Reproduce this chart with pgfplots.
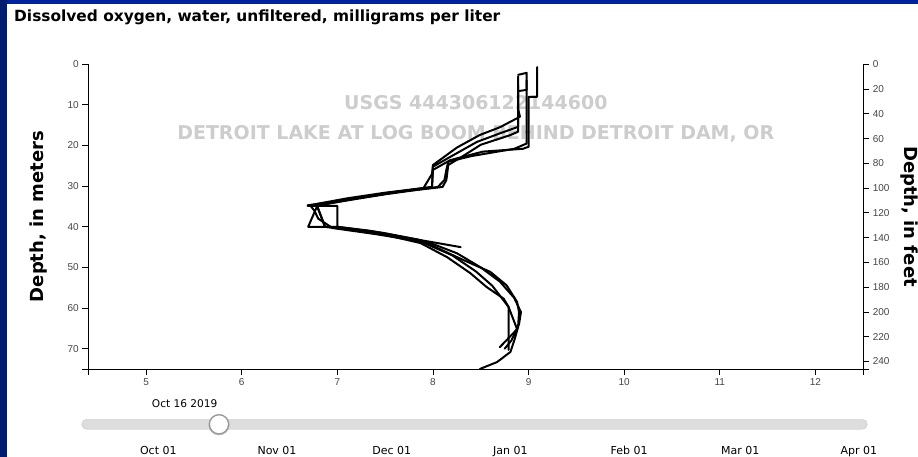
\documentclass[border=0pt]{standalone}
\usepackage{fontspec}
\usepackage{pgfplots}
\pgfplotsset{compat=1.18}
\setmainfont{DejaVu Sans}
\newfontfamily\tickfont{Liberation Sans}
\definecolor{tickgray}{RGB}{70,70,70}
\definecolor{wm}{RGB}{205,205,205}
\definecolor{topblue}{RGB}{0,34,155}
\definecolor{leftblue}{RGB}{0,28,110}
\definecolor{bar}{RGB}{221,221,221}
\definecolor{barb}{RGB}{200,200,200}
\pgfplotsset{prof/.style={black, line width=2pt, line join=round, line cap=round, mark=none}}
\begin{document}
\begin{tikzpicture}[x=1pt,y=1pt]
\useasboundingbox (0,0) rectangle (918,457);
\fill[white] (0,0) rectangle (918,457);
\fill[topblue] (0,453) rectangle (918,457);
\fill[leftblue] (0,0) rectangle (7,457);
% title
\node[anchor=base west,inner sep=0pt] at (14,435) {\fontsize{15.4}{17}\selectfont\bfseries Dissolved oxygen, water, unfiltered, milligrams per liter};
% watermark
\node[inner sep=0pt,text=wm] at (475.8,354) {\fontsize{19}{21}\selectfont\bfseries USGS 444306122144600};
\node[inner sep=0pt,text=wm] at (475.8,323) {\fontsize{19}{21}\selectfont\bfseries DETROIT LAKE AT LOG BOOM BEHIND DETROIT DAM, OR};
% axis labels
\node[rotate=90,inner sep=0pt] at (39,240.5) {\fontsize{18}{20}\selectfont\bfseries Depth, in meters};
\node[rotate=-90,inner sep=0pt] at (909,240.5) {\fontsize{18}{20}\selectfont\bfseries Depth, in feet};
\begin{axis}[
  at={(88.3pt,88pt)}, anchor=south west, scale only axis,
  width=775pt, height=304.7pt,
  xmin=4.396, xmax=12.5, ymin=0, ymax=75, y dir=reverse,
  axis x line*=bottom, axis y line*=left,
  xtick={5,...,12}, ytick={0,10,...,70},
  extra x ticks={4.396,12.5}, extra x tick labels={},
  extra y ticks={75}, extra y tick labels={},
  tick align=outside, major tick length=6pt,
  tick style={black, line width=0.9pt},
  axis line style={black, line width=0.9pt},
  tick label style={font=\tickfont\fontsize{10}{12}\selectfont, text=tickgray},
  /pgf/number format/assume math mode=true,
]
\addplot[prof] coordinates {(9.09,0.7) (9.09,8.0) (9.00,8.0) (9.00,20.3) (8.94,20.8) (8.52,21.5) (8.18,23.6) (8.00,26.0) (7.99,30.2) (7.48,31.8) (7.13,33.3) (6.69,34.7) (6.79,34.85) (6.695,40.0) (7.00,40.0) (7.48,41.5) (7.90,43.4) (8.29,45.0)};
\addplot[prof] coordinates {(8.89,2.6) (8.98,2.1) (8.98,6.3) (8.89,6.6) (8.89,15.4) (8.70,17.0) (8.46,19.1) (8.18,22.8) (8.00,25.2) (7.99,30.2) (7.50,31.6) (7.10,33.0) (6.80,34.3) (6.69,34.85) (7.00,34.85) (7.00,40.0) (7.35,41.0) (7.87,43.3) (8.32,48.2) (8.60,51.1) (8.77,54.4) (8.88,58.5) (8.90,61.0) (8.89,64.7) (8.85,68.0) (8.81,70.8) (8.67,73.3) (8.49,75.0)};
\addplot[prof] coordinates {(8.89,3.0) (8.89,16.6) (8.80,17.5) (8.50,19.8) (8.32,22.5) (8.16,24.8) (8.14,28.5) (8.10,30.2) (7.60,31.5) (7.20,33.0) (6.79,34.85) (6.87,40.0) (7.10,40.6) (7.50,42.0) (7.87,44.0) (8.15,47.5) (8.39,51.4) (8.56,54.8) (8.74,57.7) (8.79,59.7) (8.88,65.2) (8.70,69.6)};
\addplot[prof] coordinates {(8.98,4.0) (8.98,19.5) (8.85,20.8) (8.40,22.6) (8.16,24.0) (8.14,26.0) (8.12,28.5) (8.05,30.2) (7.50,32.0) (7.00,33.9) (6.72,34.85) (6.76,36.0) (6.80,38.0) (6.95,40.3) (7.40,41.8) (7.87,43.6) (8.20,47.0) (8.45,51.0) (8.62,54.5) (8.79,59.7) (8.79,70.3)};
\addplot[prof] coordinates {(8.89,5.0) (8.89,11.0) (8.91,12.9) (8.70,15.5) (8.49,17.4) (8.25,20.5) (8.00,24.8) (7.99,27.0) (7.90,30.5) (7.50,31.9) (7.10,33.3) (6.78,34.6) (6.786,34.85) (6.873,40.0) (7.00,40.3) (7.45,41.6) (7.95,43.8) (8.25,46.5) (8.50,50.0) (8.70,53.5) (8.85,57.5) (8.92,61.0) (8.90,64.0) (8.82,68.0) (8.75,70.0)};
\end{axis}
\begin{axis}[
  at={(88.3pt,88pt)}, anchor=south west, scale only axis,
  width=775pt, height=304.7pt,
  xmin=4.396, xmax=12.5, ymin=0, ymax=246.063, y dir=reverse,
  axis x line=none, axis y line*=right,
  ytick={0,20,...,240},
  extra y ticks={246.063}, extra y tick labels={},
  tick align=outside, major tick length=6pt,
  tick style={black, line width=0.9pt},
  axis line style={black, line width=0.9pt},
  tick label style={font=\tickfont\fontsize{10}{12}\selectfont, text=tickgray},
  /pgf/number format/assume math mode=true,
]
\addplot[draw=none] coordinates {(5,0)};
\end{axis}
% slider
\draw[barb, fill=bar, rounded corners=5pt] (81.7,27.7) rectangle (867.3,37.7);
\fill[black!25] (219,32.2) circle (10.6);
\draw[black!40, fill=white, line width=1.3pt] (219,32.7) circle (9.6);
\node[anchor=base,inner sep=0pt] at (184.7,49.3) {\fontsize{10.6}{12}\selectfont Oct 16 2019};
\foreach \x/\t in {158.3/Oct 01, 277/Nov 01, 391.7/Dec 01, 510.3/Jan 01, 629.2/Feb 01, 740.3/Mar 01, 858.8/Apr 01}
  \node[anchor=base,inner sep=0pt] at (\x,2) {\fontsize{11}{12}\selectfont \t};
\end{tikzpicture}
\end{document}
